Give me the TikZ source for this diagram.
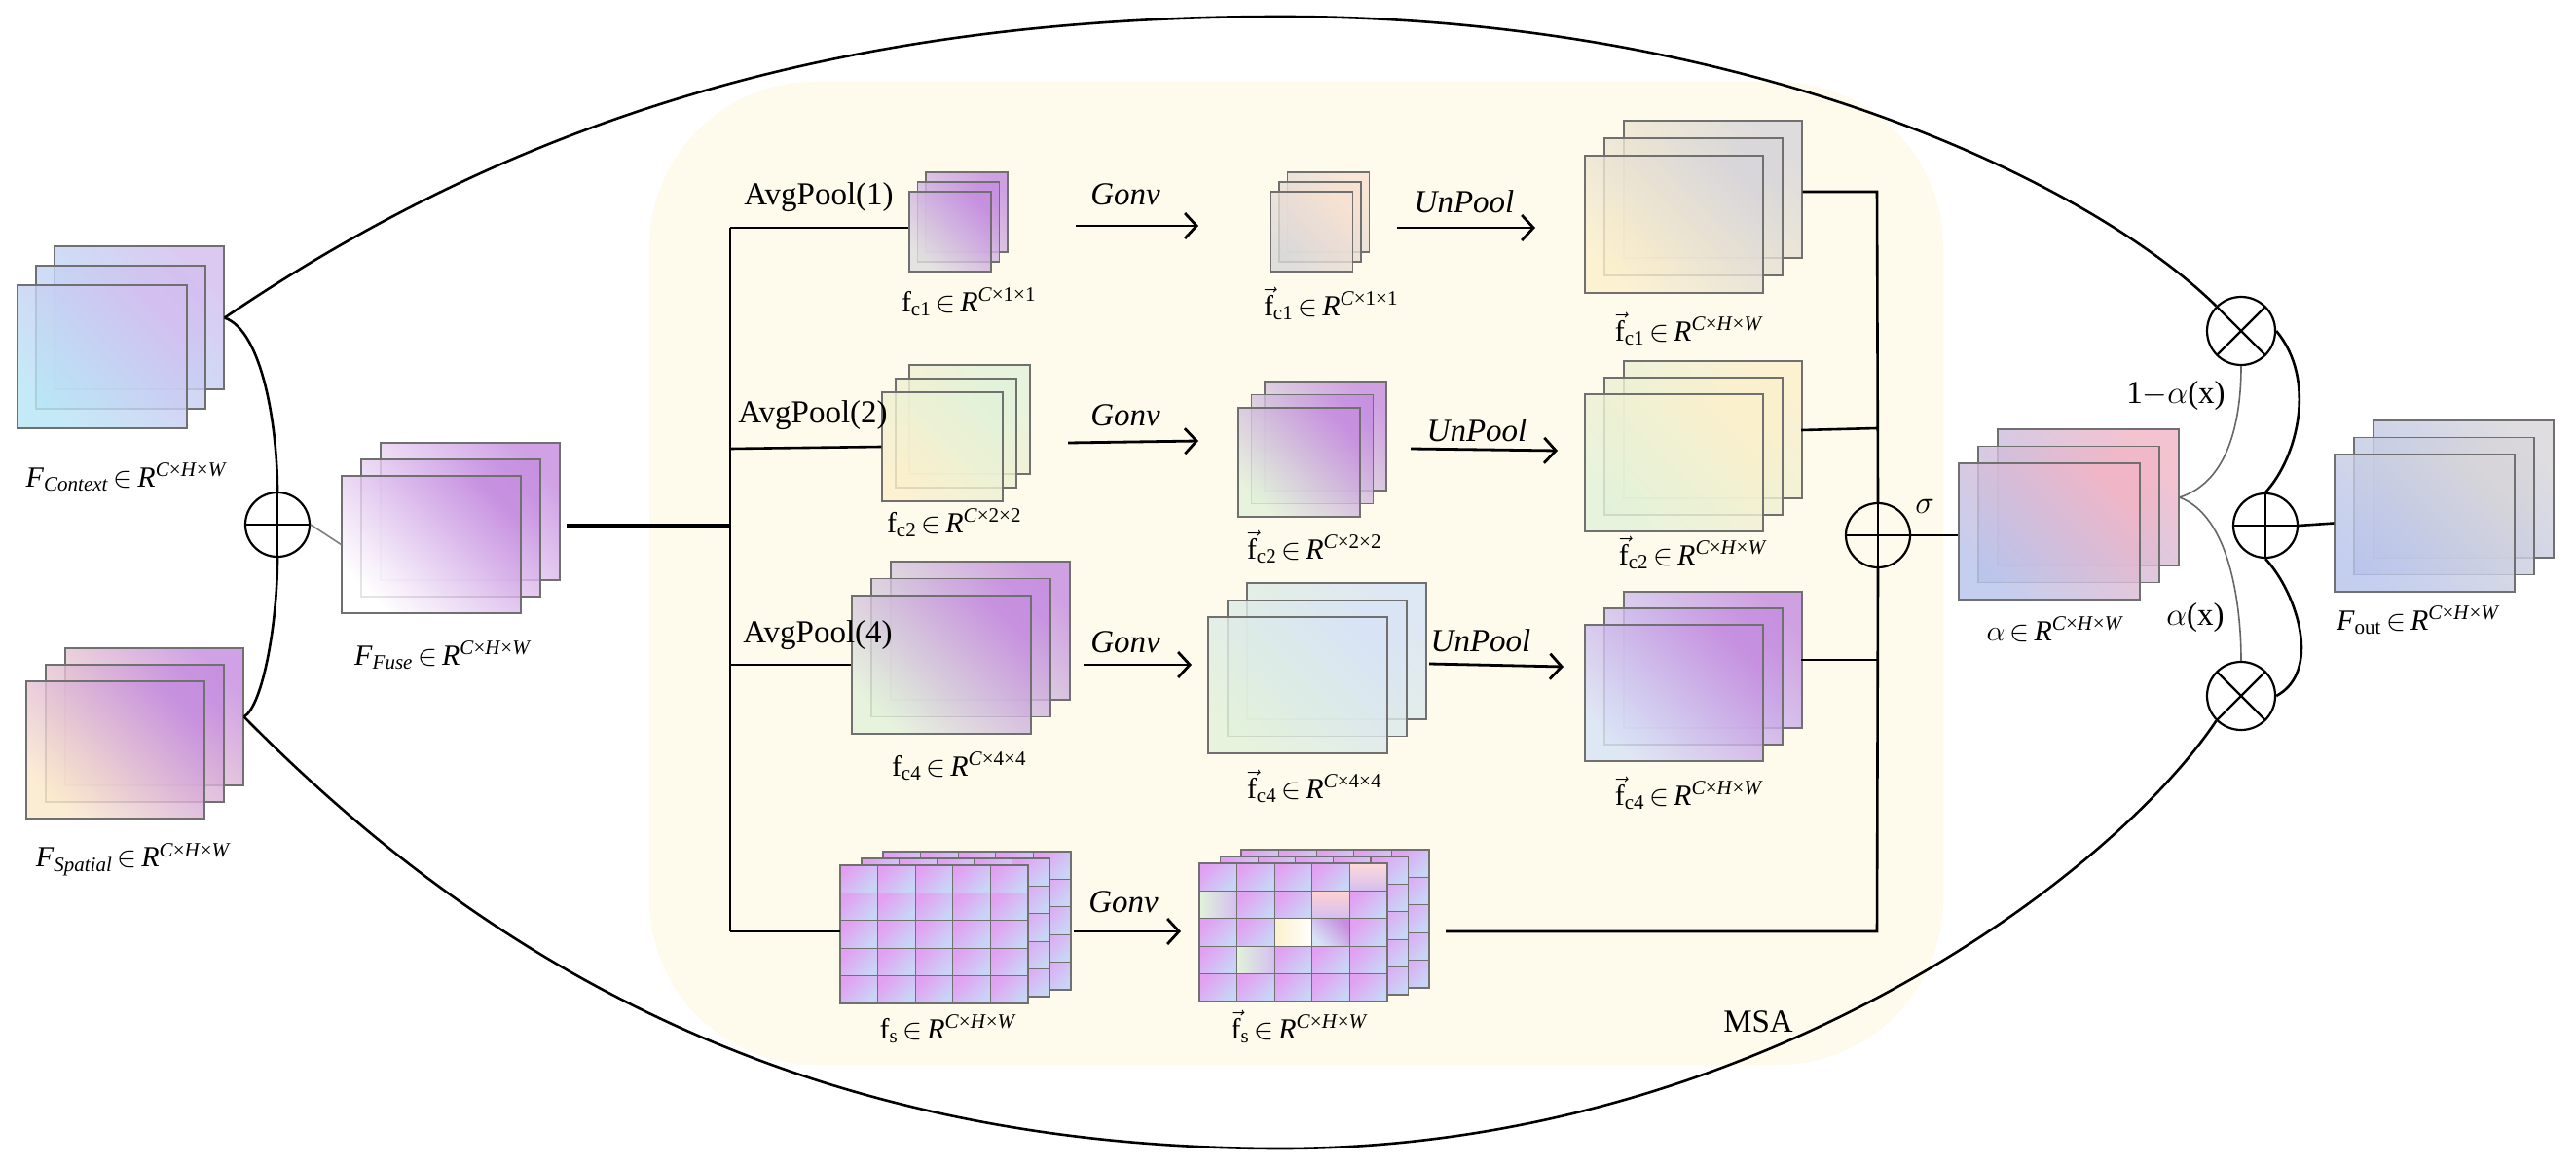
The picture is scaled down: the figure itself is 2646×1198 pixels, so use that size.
\RequirePackage{fix-cm}
\documentclass[tikz,border=0pt]{standalone}
\usepackage{fontspec}
\setmainfont{Liberation Serif}
\usetikzlibrary{arrows.meta,calc}
\definecolor{msa}{HTML}{FEFAEC}
\definecolor{gline}{HTML}{707070}
\newcommand\inR[1]{\,$\in$\,\textit{R}\textsuperscript{#1}}
\newcommand\CHW{\textit{C}×\textit{H}×\textit{W}}
\newcommand\vf{$\vec{\mbox{f}}$}
\newcommand\mystack[9]{%
  \foreach \k in {2,1,0}{\node[layer,minimum width=#4pt,minimum height=#5pt,grad={#8}{#9}] (#1-\k) at ({#2+\k*#6},{#3-\k*#7}) {};}}
\newcommand\gridstack[5]{%
  \foreach \k in {2,1,0}{\foreach \i in {0,...,4}{\foreach \j in {0,...,4}{%
    \path[draw=gline,line width=1.2pt,top color=#5,bottom color=cellB,shading angle=45]
      ({#2+\k*#4+\i*38.6},{#3-\k*7+\j*28.4}) rectangle ++(38.6,28.4);}}}%
  \node[inner sep=0,minimum width=193pt,minimum height=142pt] (#1) at ({#2+96.5},{#3+71}) {};}
\definecolor{cellA}{HTML}{E2A0F2}
\definecolor{cellB}{HTML}{C8D6F6}
\definecolor{cyL}{HTML}{B8E6F6}\definecolor{lavL}{HTML}{D4BEF0}
\definecolor{peach}{HTML}{FBEACB}\definecolor{vio}{HTML}{C68EE0}
\definecolor{cream}{HTML}{FCF0CC}\definecolor{grayL}{HTML}{D8D6DA}
\definecolor{greenL}{HTML}{E2F2DA}\definecolor{blueL}{HTML}{D8E4F6}
\definecolor{blueM}{HTML}{B8C4EC}\definecolor{pinkM}{HTML}{F2B6C6}
\definecolor{peachB}{HTML}{F8E2D2}
\tikzset{
  layer/.style={draw=gline,line width=1.3pt,inner sep=0,fill opacity=.82},
  grad/.style 2 args={bottom color=#1,top color=#2,shading angle=-45},
  lab/.style={font=\fontsize{30}{32}\selectfont,inner sep=0},
  op/.style={font=\fontsize{33}{35}\selectfont,inner sep=0},
  ln/.style={line width=2.6pt,black},
  arr/.style={line width=2.8pt,-{Straight Barb[length=12pt,width=26pt,line width=2.8pt]}},
  oplus/.style={circle,draw,line width=2.2pt,minimum size=66pt,inner sep=0,
    path picture={\draw[line width=2.2pt] (path picture bounding box.north)--(path picture bounding box.south)
      (path picture bounding box.west)--(path picture bounding box.east);}},
  otimes/.style={circle,draw,line width=2.2pt,minimum size=70pt,inner sep=0,
    path picture={\draw[line width=2.2pt] (path picture bounding box.south west)--(path picture bounding box.north east)
      (path picture bounding box.north west)--(path picture bounding box.south east);}},
}
\begin{document}
\begin{tikzpicture}[x=1pt,y=-1pt]
\useasboundingbox (0,0) rectangle (2646,1198);
\fill[white] (0,0) rectangle (2646,1198);
% MSA background
\fill[msa,rounded corners=170pt] (667,84) rectangle (1996,1094);
\node[op] (msa) at (1806,1050) {MSA};

% stacks
\mystack{ctx}{105}{366.5}{174}{147}{19}{20}{cyL}{lavL}
\mystack{spa}{118.5}{770.5}{183}{141}{20}{17}{peach}{vio}
\mystack{fuse}{443}{559.5}{184}{141}{20}{17}{white}{vio}
\mystack{fca}{976}{238}{84}{82}{8.5}{10}{gray!25}{vio}
\mystack{fcap}{1347.5}{238}{84}{82}{8.5}{10}{gray!30}{peachB}
\mystack{biga}{1719.5}{230.5}{183}{141}{20}{18}{cream}{grayL}
\mystack{fcb}{968}{459}{124}{112}{14}{14}{cream}{greenL}
\mystack{fcbp}{1334.5}{475}{125}{112}{13.5}{13.5}{greenL}{vio}
\mystack{bigb}{1719.5}{475.5}{183}{141}{20}{17}{greenL}{cream}
\mystack{fcd}{967}{683}{184}{142}{20}{17.5}{greenL}{vio}
\mystack{fcdp}{1333}{704}{184}{140}{20}{17.5}{greenL}{blueL}
\mystack{bigd}{1719.5}{712}{183}{140}{20}{17}{blueL}{vio}
\mystack{alp}{2105}{546}{186}{140}{20}{17.5}{blueM}{pinkM}
\mystack{fout}{2490.5}{537.5}{185}{141}{20}{17.5}{blueM}{grayL}
\gridstack{fs}{863}{889}{22}{cellA}
\gridstack{fsp}{1232}{887}{21.5}{cellA}
% a few distinct cells in fsp
\path[draw=gline,line width=1.2pt,left color=cream,right color=white] (1309.2,943.8) rectangle ++(38.6,28.4);
\path[draw=gline,line width=1.2pt,top color=pink!70,bottom color=lavL] (1347.8,915.4) rectangle ++(38.6,28.4);
\path[draw=gline,line width=1.2pt,top color=vio,bottom color=blueL,shading angle=-45] (1347.8,943.8) rectangle ++(38.6,28.4);
\path[draw=gline,line width=1.2pt,top color=pink!60,bottom color=lavL] (1386.4,887) rectangle ++(38.6,28.4);
\path[draw=gline,line width=1.2pt,left color=greenL,right color=lavL] (1232,915.4) rectangle ++(38.6,28.4);
\path[draw=gline,line width=1.2pt,left color=greenL,right color=lavL] (1270.6,972.2) rectangle ++(38.6,28.4);

% circles
\node[oplus] (op1) at (285,539) {};
\node[oplus] (op2) at (1929,550) {};
\node[oplus] (op3) at (2327,540) {};
\node[otimes] (ot1) at (2302,340) {};
\node[otimes] (ot2) at (2302,715) {};

% left junction and outer curves
\draw[ln] (ctx-2.east) .. controls (270,340) and (285,440) .. (op1.north);
\draw[ln] (op1.south) .. controls (285,640) and (270,725) .. (spa-2.east);
\draw[ln] (ctx-2.east) .. controls (520,130) and (850,17) .. (1316,17) .. controls (1800,17) and (2150,190) .. (ot1.north west);
\draw[ln] (spa-2.east) .. controls (520,1010) and (850,1180) .. (1316,1180) .. controls (1800,1180) and (2170,900) .. (ot2.south west);
\draw[line width=1.6pt,gray] (op1.east) -- (fuse-0.west);
\coordinate (fz) at (582,540);
\coordinate (J) at (750,540);
\draw[line width=4.5pt] (fz) -- (J);
\coordinate (Jt) at (750,234);
\coordinate (Jb) at (750,957);
\draw[ln] (Jt) -- (Jb);
\draw[ln] (Jt) -- (fca-0.west |- Jt);
\draw[ln] (750,461) -- (fcb-0.west |- 0,459);
\draw[ln] (750,683) -- (fcd-0.west);
\draw[ln] (Jb) -- (fs.west |- Jb);

% arrows
\draw[arr] (1105,232) -- (1231,232);
\draw[arr] (1435,234) -- (1577,234);
\draw[arr] (1097,455) -- (1231,453);
\draw[arr] (1449,461) -- (1600,463);
\draw[arr] (1113,683) -- (1224,683);
\draw[arr] (1468,682) -- (1606,685);
\draw[arr] (1103,957) -- (1213,957);

% right collector
\coordinate (Rt) at (1928,197);
\coordinate (Rb) at (1928,957);
\draw[ln] (biga-2.east |- Rt) -- (Rt) -- (op2.north);
\draw[ln] (op2.south) -- (Rb) -- (1485,957);
\draw[ln] (1850,442) -- (1928,440);
\draw[ln] (1850,678) -- (1928,678);
\draw[ln] (op2.east) -- (alp-0.west |- op2);
% gating
\draw[line width=1.6pt,gray!80!black] (alp-2.east) .. controls (2290,495) and (2302,430) .. (ot1.south);
\draw[line width=1.6pt,gray!80!black] (alp-2.east) .. controls (2290,530) and (2302,620) .. (ot2.north);
\draw[ln] (ot1.east) .. controls (2380,390) and (2360,470) .. (op3.north);
\draw[ln] (op3.south) .. controls (2360,610) and (2385,690) .. (ot2.east);
\draw[ln] (op3.east) -- (fout-0.west);

% labels
\node[lab] (lctx) at (130,490) {\textit{F}\textsubscript{\textit{Context}}\inR{\CHW}};
\node[lab] (lspa) at (137,883) {\textit{F}\textsubscript{\textit{Spatial}}\inR{\CHW}};
\node[lab] (lfuse) at (455,673) {\textit{F}\textsubscript{\textit{Fuse}}\inR{\CHW}};
\node[op] at (841,203) {AvgPool(1)};
\node[op] at (835,427) {AvgPool(2)};
\node[op] at (840,653) {AvgPool(4)};
\node[op] at (1156,200) {\textit{Gonv}};
\node[op] at (1156,427) {\textit{Gonv}};
\node[op] at (1156,660) {\textit{Gonv}};
\node[op] at (1154,927) {\textit{Gonv}};
\node[op] at (1504,207) {\textit{UnPool}};
\node[op] at (1517,442) {\textit{UnPool}};
\node[op] at (1521,658) {\textit{UnPool}};
\node[lab] at (995,310) {f\textsubscript{c1}\inR{\textit{C}×1×1}};
\node[lab] at (1367,312) {\vf\textsubscript{c1}\inR{\textit{C}×1×1}};
\node[lab] at (1735,338) {\vf\textsubscript{c1}\inR{\CHW}};
\node[lab] at (980,537) {f\textsubscript{c2}\inR{\textit{C}×2×2}};
\node[lab] at (1350,562) {\vf\textsubscript{c2}\inR{\textit{C}×2×2}};
\node[lab] at (1739,568) {\vf\textsubscript{c2}\inR{\CHW}};
\node[lab] at (985,787) {f\textsubscript{c4}\inR{\textit{C}×4×4}};
\node[lab] at (1350,808) {\vf\textsubscript{c4}\inR{\textit{C}×4×4}};
\node[lab] at (1735,815) {\vf\textsubscript{c4}\inR{\CHW}};
\node[lab] at (974,1057) {f\textsubscript{s}\inR{\CHW}};
\node[lab] at (1335,1055) {\vf\textsubscript{s}\inR{\CHW}};
\node[op] at (1977,520) {$\sigma$};
\node[lab] at (2111,647) {$\alpha$\inR{\CHW}};
\node[lab] at (2484,637) {\textit{F}\textsubscript{out}\inR{\CHW}};
\node[op] at (2235,407) {1$-\alpha$(x)};
\node[op] at (2255,635) {$\alpha$(x)};
\end{tikzpicture}
\end{document}
